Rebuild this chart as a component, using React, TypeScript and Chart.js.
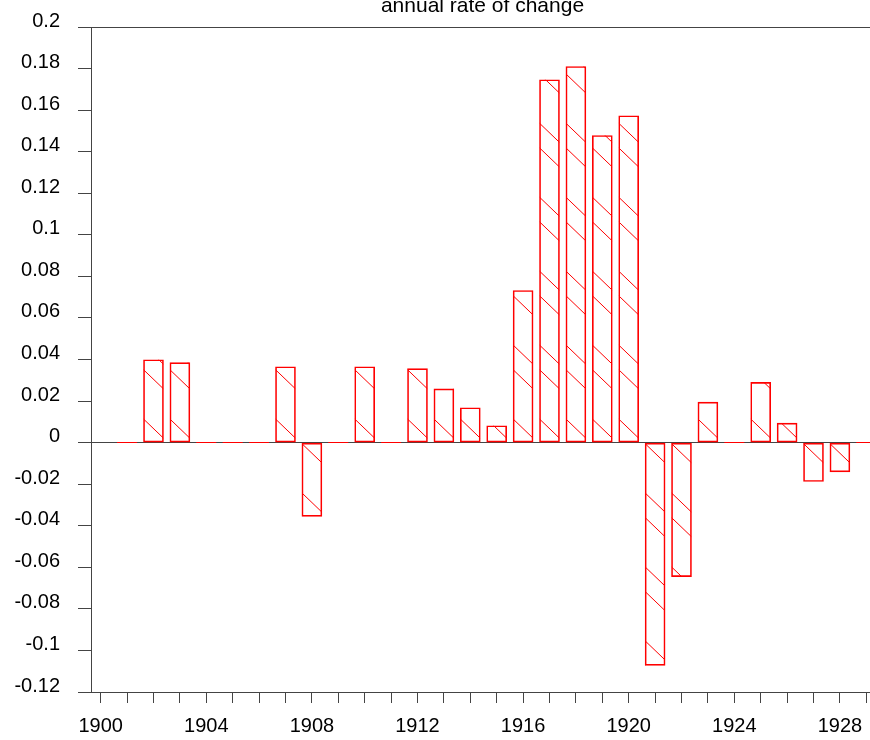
import { useEffect, useRef } from 'react';
import { Chart, registerables } from 'chart.js';

Chart.register(...registerables);

const chartTitle = 'annual rate of change';

const years = [
  1900, 1901, 1902, 1903, 1904, 1905, 1906, 1907, 1908, 1909,
  1910, 1911, 1912, 1913, 1914, 1915, 1916, 1917, 1918, 1919,
  1920, 1921, 1922, 1923, 1924, 1925, 1926, 1927, 1928, 1929,
];

const rates: (number | null)[] = [
  null, 0, 0.0399, 0.0385, 0, 0, 0, 0.0365, -0.0355, 0,
  0.0365, 0, 0.0356, 0.0259, 0.0168, 0.0081, 0.0732, 0.1746, 0.181, 0.1478,
  0.1573, -0.1072, -0.0645, 0.0195, 0, 0.029, 0.0094, -0.0187, -0.0141, 0,
];

const xLabelYears = [1900, 1904, 1908, 1912, 1916, 1920, 1924, 1928];

const yMin = -0.12;
const yMax = 0.2;
const yStep = 0.02;
const xMin = 1899.633;
const xMax = 1929.14;

const RED = '#ff0000';
const AXIS = '#444444';
const FONT = '"Liberation Sans", Arial, Helvetica, sans-serif';
const HATCH_STEP = 24.65;

const hatchPlugin = {
  id: 'hatchBars',
  afterDatasetsDraw(chart: any) {
    const meta = chart.getDatasetMeta(0);
    const zero = chart.scales.y.getPixelForValue(0);
    const { ctx, chartArea } = chart;
    ctx.save();
    ctx.beginPath();
    ctx.rect(chartArea.left, chartArea.top, chartArea.right - chartArea.left, chartArea.bottom - chartArea.top);
    ctx.clip();
    ctx.strokeStyle = RED;
    ctx.lineWidth = 1;
    meta.data.forEach((bar: any, i: number) => {
      const v = rates[i];
      if (v == null) return;
      const { x, y, base, width } = bar.getProps(['x', 'y', 'base', 'width'], true);
      const left = x - width / 2;
      const right = x + width / 2;
      if (v === 0) {
        const yy = Math.floor(zero) + 0.5;
        ctx.beginPath();
        ctx.moveTo(left, yy);
        ctx.lineTo(right, yy);
        ctx.stroke();
        return;
      }
      const top = Math.min(y, base);
      const bottom = Math.max(y, base);
      ctx.save();
      ctx.beginPath();
      ctx.rect(left, top, width, bottom - top);
      ctx.clip();
      const drop = width * 0.96;
      const nMin = Math.floor((top - drop - zero - 1) / HATCH_STEP) - 1;
      const nMax = Math.ceil((bottom - zero - 1) / HATCH_STEP) + 1;
      for (let n = nMin; n <= nMax; n++) {
        if (((n % 3) + 3) % 3 === 1) continue;
        const Y = zero + 1 + n * HATCH_STEP;
        ctx.beginPath();
        ctx.moveTo(left, Y);
        ctx.lineTo(right, Y + drop);
        ctx.stroke();
      }
      ctx.restore();
    });
    ctx.restore();
  },
};

const titlePlugin = {
  id: 'topTitle',
  afterDraw(chart: any) {
    const { ctx, chartArea } = chart;
    ctx.save();
    ctx.font = `21px ${FONT}`;
    ctx.fillStyle = '#000';
    ctx.textAlign = 'center';
    ctx.textBaseline = 'alphabetic';
    ctx.fillText(chartTitle, (chartArea.left + chartArea.right) / 2 + 2, 12);
    ctx.restore();
  },
};

export default function App() {
  const ref = useRef<HTMLCanvasElement | null>(null);

  useEffect(() => {
    if (!ref.current) return;
    const data = years.map((yr, i) => ({ x: yr, y: rates[i] }));
    const chart = new Chart(ref.current, {
      type: 'bar',
      data: {
        datasets: [
          {
            data: data as any,
            backgroundColor: 'rgba(0,0,0,0)',
            borderColor: RED,
            borderWidth: 1,
            borderSkipped: false,
            barThickness: 20,
          },
        ],
      },
      plugins: [hatchPlugin, titlePlugin],
      options: {
        responsive: false,
        animation: false,
        devicePixelRatio: 1,
        layout: { padding: { top: 27, left: 0, right: 0, bottom: 0 } },
        plugins: {
          legend: { display: false },
          tooltip: { enabled: false },
          title: { display: false },
        },
        scales: {
          x: {
            type: 'linear',
            min: xMin,
            max: xMax,
            offset: false,
            afterFit: (s: any) => {
              s.height = 48;
              s.paddingLeft = 0;
              s.paddingRight = 0;
            },
            border: { display: true, color: AXIS, width: 1 },
            grid: {
              display: true,
              drawOnChartArea: false,
              drawTicks: true,
              tickLength: 11,
              tickColor: AXIS,
              color: AXIS,
              offset: false,
            },
            ticks: {
              stepSize: 1,
              autoSkip: false,
              maxRotation: 0,
              minRotation: 0,
              includeBounds: false,
              padding: 11,
              color: '#000',
              font: { family: FONT, size: 20 },
              callback: (v: any) => (xLabelYears.includes(Number(v)) ? String(v) : ''),
            },
          },
          y: {
            type: 'linear',
            min: yMin,
            max: yMax,
            afterFit: (s: any) => {
              s.width = 91;
              s.paddingTop = 0;
              s.paddingBottom = 0;
            },
            border: { display: true, color: AXIS, width: 1 },
            grid: {
              display: true,
              drawOnChartArea: true,
              drawTicks: true,
              tickLength: 13,
              tickColor: AXIS,
              color: (c: any) => {
                const v = c.tick ? c.tick.value : NaN;
                return Math.abs(v) < 1e-9 || Math.abs(v - yMax) < 1e-9 ? AXIS : 'rgba(0,0,0,0)';
              },
            },
            ticks: {
              stepSize: yStep,
              padding: 18,
              labelOffset: -6,
              color: '#000',
              font: { family: FONT, size: 20 },
              callback: (v: any) => String(Number(Number(v).toFixed(2))),
            },
          },
        },
      } as any,
    });
    return () => chart.destroy();
  }, []);

  return (
    <div style={{ position: 'absolute', left: 0, top: 0, width: 870, height: 740, background: '#fff' }}>
      <canvas ref={ref} width={870} height={740} style={{ display: 'block' }} />
    </div>
  );
}
